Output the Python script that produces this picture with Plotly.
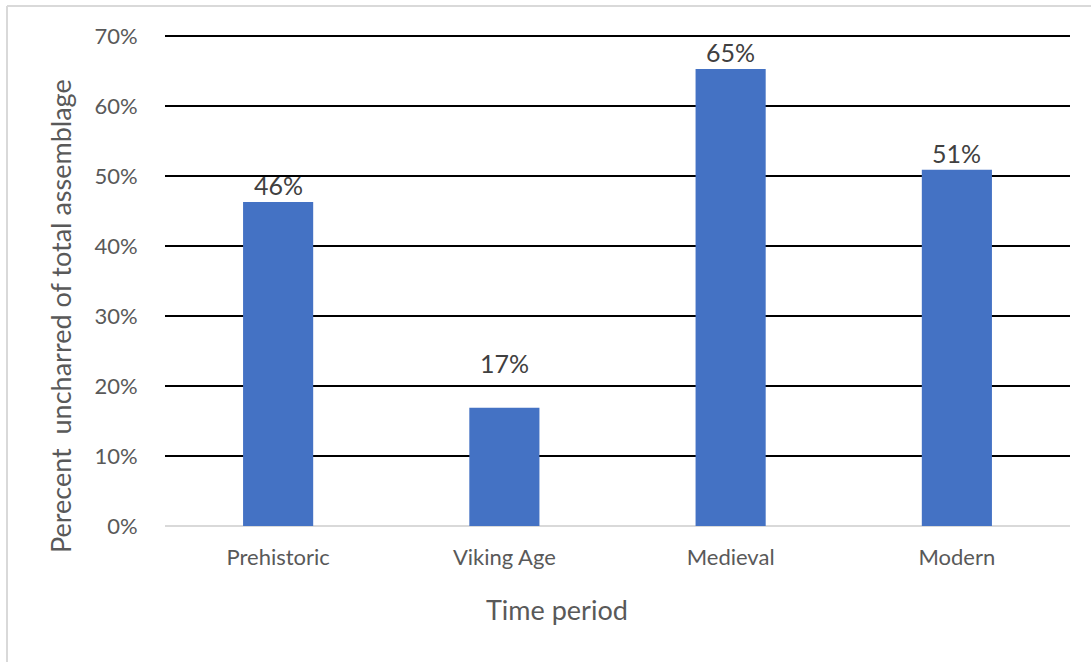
import plotly.graph_objects as go

# Share of the assemblage that is uncharred, by time period
periods = ["Prehistoric", "Viking Age", "Medieval", "Modern"]
uncharred_share = [0.463, 0.169, 0.653, 0.509]
y_ticks = [0, 0.1, 0.2, 0.3, 0.4, 0.5, 0.6, 0.7]

# Vertical offset (px) of each value label above its bar
label_lift = [0, 28, 0, 0]

FONT = "Lato"
BAR_COLOR = "#4472C4"
TEXT_GRAY = "#595959"

fig = go.Figure(
    go.Bar(
        x=periods,
        y=uncharred_share,
        marker=dict(color=BAR_COLOR, line=dict(width=0)),
        hoverinfo="skip",
    )
)

for cat, val, lift in zip(periods, uncharred_share, label_lift):
    fig.add_annotation(
        x=cat, y=val, text=f"{val:.0%}", showarrow=False,
        yanchor="bottom", yshift=lift,
        font=dict(family=FONT, size=25, color="#404040"),
    )

# Plot area geometry in px (y range runs slightly above 70% so the top gridline shows)
Y_TOP = 0.71
L, W, BOTTOM = 165, 905, 526
H = round(Y_TOP * 700)
T = BOTTOM - H


def px_x(px):
    return (px - L) / W


def px_y(py):
    return (BOTTOM - py) / H


# Outer chart frame, visible on the top and left edges
fig.add_shape(type="line", xref="paper", yref="paper",
              x0=px_x(7), x1=px_x(1091), y0=px_y(6), y1=px_y(6),
              line=dict(color="#D9D9D9", width=2))
fig.add_shape(type="line", xref="paper", yref="paper",
              x0=px_x(7), x1=px_x(7), y0=px_y(6), y1=px_y(662),
              line=dict(color="#D9D9D9", width=2))

# Axis titles
fig.add_annotation(xref="paper", yref="paper", x=px_x(557), y=px_y(609),
                   text="Time period", showarrow=False,
                   xanchor="center", yanchor="middle",
                   font=dict(family=FONT, size=27, color=TEXT_GRAY))
fig.add_annotation(xref="paper", yref="paper", x=px_x(60), y=px_y(316),
                   text="Perecent  uncharred of total assemblage", showarrow=False,
                   textangle=-90, xanchor="center", yanchor="middle",
                   font=dict(family=FONT, size=27, color=TEXT_GRAY))

fig.update_layout(
    width=1091, height=662,
    margin=dict(l=L, r=1091 - L - W, t=T, b=662 - BOTTOM, autoexpand=False),
    paper_bgcolor="white", plot_bgcolor="white",
    bargap=0.69,
    showlegend=False,
    font=dict(family=FONT, color=TEXT_GRAY),
    xaxis=dict(
        tickfont=dict(size=22, color=TEXT_GRAY),
        ticks="outside", ticklen=12, tickcolor="rgba(0,0,0,0)",
        showline=False, showgrid=False,
    ),
    yaxis=dict(
        range=[0, Y_TOP],
        tickvals=y_ticks, tickformat=".0%",
        tickfont=dict(size=22, color=TEXT_GRAY),
        ticks="outside", ticklen=22, tickcolor="rgba(0,0,0,0)",
        showgrid=True, gridcolor="#000000", gridwidth=2,
        zeroline=True, zerolinecolor="#D9D9D9", zerolinewidth=2,
        showline=False,
    ),
)

fig.write_html("out.html")
